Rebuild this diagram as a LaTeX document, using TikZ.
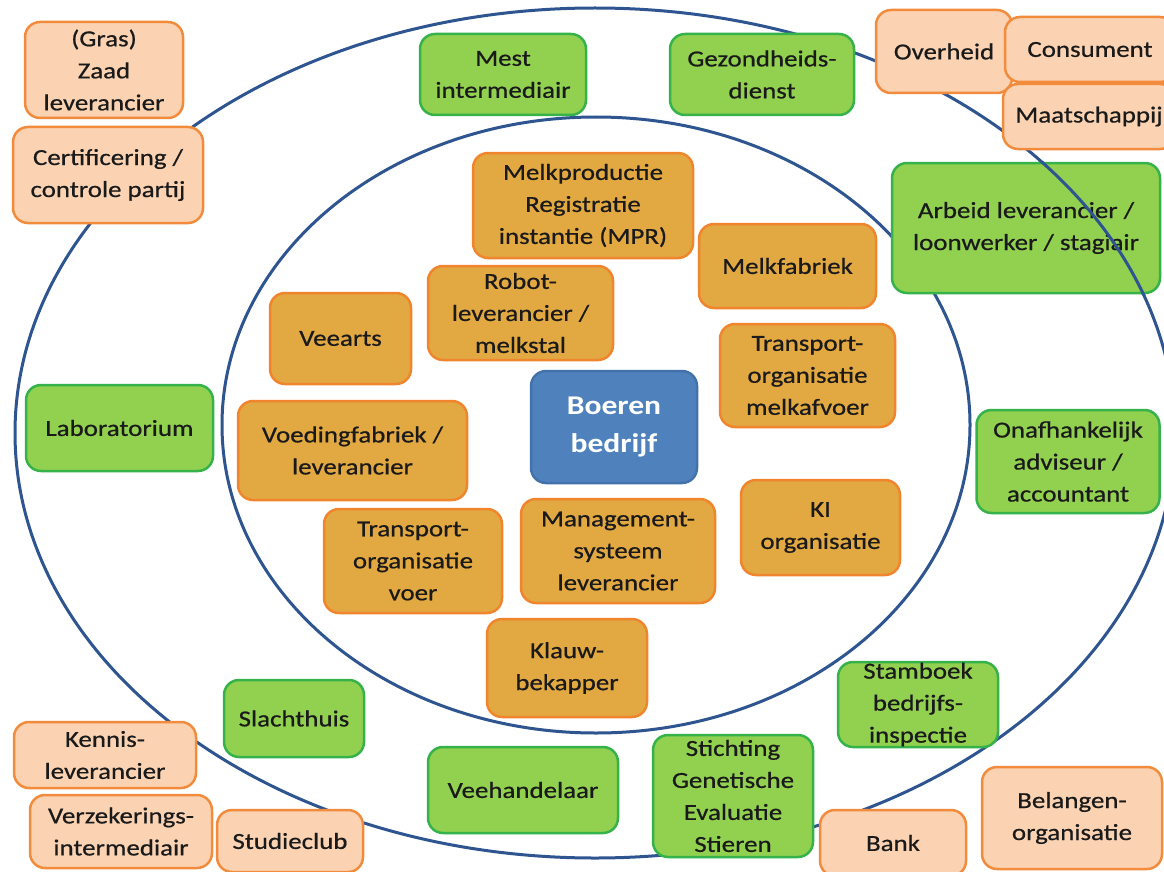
\documentclass[tikz,border=0pt]{standalone}
\usepackage{fontspec}
\setmainfont{Carlito}[FakeStretch=1.17, UprightFeatures={FakeBold=0.6}]
\definecolor{peachfill}{HTML}{FBD3B3}
\definecolor{peachdraw}{HTML}{F28C3C}
\definecolor{orfill}{HTML}{E2A842}
\definecolor{ordraw}{HTML}{F0852E}
\definecolor{grfill}{HTML}{92D050}
\definecolor{grdraw}{HTML}{35B34A}
\definecolor{blfill}{HTML}{4F81BD}
\definecolor{bldraw}{HTML}{4372AA}
\definecolor{ringcol}{HTML}{2E5590}
\definecolor{txt}{HTML}{1A1A1A}
\tikzset{
  box/.style={rounded corners=15pt, line width=2.5pt, align=center, inner sep=0pt,
    text=txt, font=\fontsize{23}{32}\selectfont},
  peach/.style={box, fill=peachfill, draw=peachdraw},
  orbox/.style={box, fill=orfill, draw=ordraw},
  grbox/.style={box, fill=grfill, draw=grdraw},
  blbox/.style={box, fill=blfill, draw=bldraw, text=white,
    font=\fontsize{27}{38}\selectfont\bfseries},
  ring/.style={draw=ringcol, line width=3pt}
}
\begin{document}
\begin{tikzpicture}[x=1pt,y=-1pt]
\clip (0,0) rectangle (1164,872);
\fill[white] (0,0) rectangle (1164,872);
% rings
\draw[ring] (595,433) ellipse [x radius=580pt, y radius=425pt];
\draw[ring] (596,425) ellipse [x radius=374pt, y radius=308pt];
% outer (peach) boxes
\node[peach, minimum width=158pt, minimum height=96pt] (zaad) at (104,70) {(Gras)\\Zaad\\leverancier};
\node[peach, minimum width=190pt, minimum height=96pt] (cert) at (108,175) {Certificering /\\controle partij};
\node[peach, minimum width=136pt, minimum height=83pt] (overheid) at (944,51.5) {Overheid};
\node[peach, minimum width=172pt, minimum height=65pt] (maats) at (1089,116.5) {Maatschappij};
\node[peach, minimum width=170pt, minimum height=65pt] (consument) at (1090,49.5) {Consument};
\node[peach, minimum width=182pt, minimum height=66pt] (kennis) at (105,755) {Kennis-\\leverancier};
\node[peach, minimum width=182pt, minimum height=73pt] (verz) at (121,831.5) {Verzekerings-\\intermediair};
\node[peach, minimum width=146pt, minimum height=62pt] (studie) at (290,841) {Studieclub};
\node[peach, minimum width=146pt, minimum height=66pt] (bank) at (893,843) {Bank};
\node[peach, minimum width=180pt, minimum height=102pt] (belangen) at (1072,818) {Belangen-\\organisatie};
% middle ring (green) boxes
\node[grbox, minimum width=166pt, minimum height=81pt] (mest) at (503,74.5) {Mest\\intermediair};
\node[grbox, minimum width=184pt, minimum height=81pt] (gezond) at (762,74.5) {Gezondheids-\\dienst};
\node[grbox, minimum width=268pt, minimum height=130pt] (arbeid) at (1026,228) {Arbeid leverancier /\\loonwerker / stagiair};
\node[grbox, minimum width=187pt, minimum height=86pt] (labor) at (119.5,428) {Laboratorium};
\node[grbox, minimum width=183pt, minimum height=103pt] (onaf) at (1068,461.5) {Onafhankelijk\\adviseur /\\accountant};
\node[grbox, minimum width=140pt, minimum height=77pt] (slacht) at (294,718.5) {Slachthuis};
\node[grbox, minimum width=190pt, minimum height=86pt] (veeh) at (523,790) {Veehandelaar};
\node[grbox, minimum width=160pt, minimum height=122pt] (stichting) at (733,796) {Stichting\\Genetische\\Evaluatie\\Stieren};
\node[grbox, minimum width=160pt, minimum height=85pt] (stamboek) at (918,704.5) {Stamboek\\bedrijfs-\\inspectie};
% inner (orange) boxes
\node[orbox, minimum width=220pt, minimum height=105pt] (mpr) at (583,205.5) {Melkproductie\\Registratie\\instantie (MPR)};
\node[orbox, minimum width=177pt, minimum height=84pt] (melkfab) at (787.5,266) {Melkfabriek};
\node[orbox, minimum width=185pt, minimum height=94pt] (robot) at (520.5,313) {Robot-\\leverancier /\\melkstal};
\node[orbox, minimum width=141pt, minimum height=91pt] (veearts) at (340.5,338.5) {Veearts};
\node[orbox, minimum width=175pt, minimum height=103pt] (transmelk) at (807.5,375.5) {Transport-\\organisatie\\melkafvoer};
\node[orbox, minimum width=229pt, minimum height=99pt] (voeding) at (352.5,450.5) {Voedingfabriek /\\leverancier};
\node[orbox, minimum width=159pt, minimum height=95pt] (ki) at (820.5,527.5) {KI\\organisatie};
\node[orbox, minimum width=178pt, minimum height=104pt] (transvoer) at (413,561) {Transport-\\organisatie\\voer};
\node[orbox, minimum width=194pt, minimum height=104pt] (mgmt) at (618,551) {Management-\\systeem\\leverancier};
\node[orbox, minimum width=160pt, minimum height=98pt] (klauw) at (567,668) {Klauw-\\bekapper};
% centre
\node[blbox, minimum width=166pt, minimum height=112pt] (boeren) at (614,427) {Boeren\\bedrijf};
% outer ring passes over the Arbeid box
\begin{scope}
\clip (arbeid.north west) rectangle (arbeid.south east);
\draw[ring] (595,433) ellipse [x radius=580pt, y radius=425pt];
\end{scope}
\end{tikzpicture}
\end{document}
